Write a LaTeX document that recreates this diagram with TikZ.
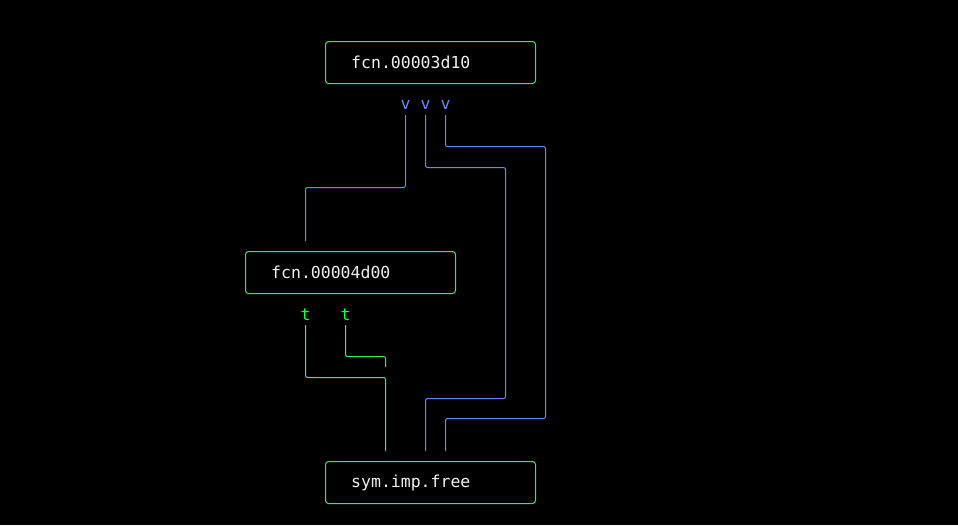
\documentclass[tikz,border=0pt]{standalone}
\usepackage{fontspec}
\setmonofont{DejaVu Sans Mono}
\begin{document}
\begin{tikzpicture}[x=1pt,y=-1pt,
  box/.style={draw=boxgreen, line width=1pt, rounded corners=3pt, minimum width=210pt, minimum height=42pt, inner sep=0pt, outer sep=0pt, anchor=north west},
  txt/.style={text=txtwhite, font=\ttfamily\fontsize{16.5}{18}\selectfont, anchor=west, inner sep=0pt},
  vlab/.style={text=eblue, font=\ttfamily\fontsize{16.5}{18}\selectfont, inner sep=0pt},
  tlab/.style={text=tgreen, font=\ttfamily\fontsize{16.5}{18}\selectfont, inner sep=0pt},
  bedge/.style={draw=eblue, line width=1pt, rounded corners=2pt},
  gedge/.style={draw=lgreen, line width=1pt, rounded corners=2pt}]
\definecolor{boxgreen}{RGB}{50,235,110}
\definecolor{txtwhite}{RGB}{240,240,240}
\definecolor{eblue}{RGB}{105,135,250}
\definecolor{tgreen}{RGB}{20,255,80}
\definecolor{lgreen}{RGB}{50,240,110}
\fill[black] (0,0) rectangle (958,525);
\useasboundingbox (0,0) rectangle (958,525);
% boxes
\node[box] (top) at (325.5,41.5) {};
\node[txt] (toptxt) at (351,62.5) {fcn.00003d10};
\node[box] (mid) at (245.5,251.5) {};
\node[txt] (midtxt) at (271,272.5) {fcn.00004d00};
\node[box] (bot) at (325.5,461.5) {};
\node[txt] (bottxt) at (351,482.5) {sym.imp.free};
% labels
\node[vlab] (v1) at (405.5,104.5) {v};
\node[vlab] (v2) at (425.5,104.5) {v};
\node[vlab] (v3) at (445.5,104.5) {v};
\node[tlab] (t1) at (305.5,314.5) {t};
\node[tlab] (t2) at (345.5,314.5) {t};
% endpoints
\coordinate (v1s) at (405.5,115);
\coordinate (v2s) at (425.5,115);
\coordinate (v3s) at (445.5,115);
\coordinate (t1s) at (305.5,325);
\coordinate (t2s) at (345.5,325);
\coordinate (e1) at (305.5,241);
\coordinate (e2) at (425.5,451);
\coordinate (e3) at (445.5,451);
\coordinate (e4) at (385.5,451);
\coordinate (e5) at (385.5,367);
% blue edges
\draw[bedge] (v1s) |- (355,187.5) -| (e1);
\draw[bedge] (v2s) |- (505.5,167.5) -- (505.5,398.5) -| (e2);
\draw[bedge] (v3s) |- (545.5,146.5) -- (545.5,418.5) -| (e3);
% green edges
\draw[gedge] (t1s) |- (345,377.5) -| (e4);
\draw[gedge] (t2s) |- (365,356.5) -| (e5);
\end{tikzpicture}
\end{document}
